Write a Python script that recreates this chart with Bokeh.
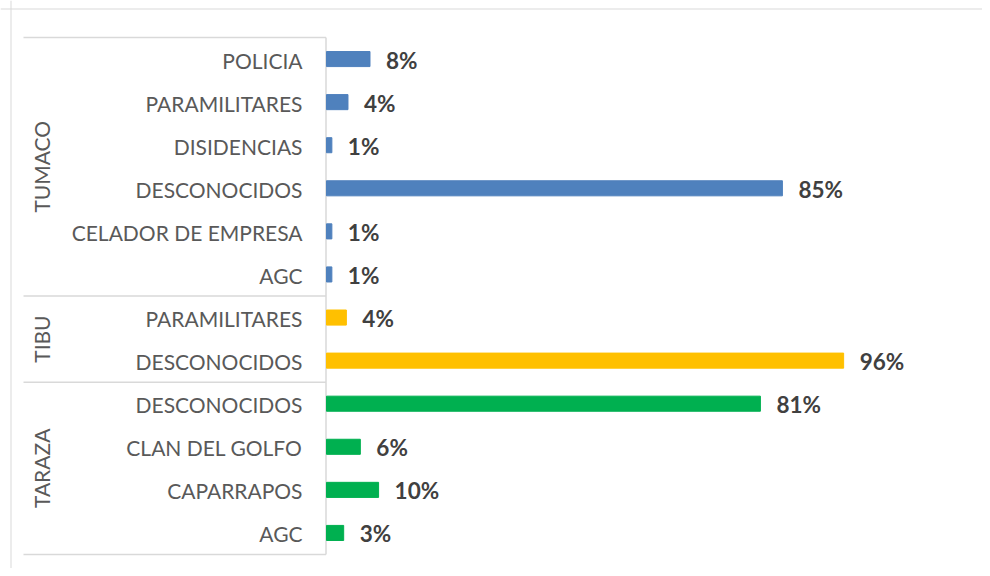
import math
from bokeh.plotting import figure
from bokeh.models import ColumnDataSource, Span
from bokeh.core.properties import value
from bokeh.embed import file_html
from bokeh.resources import INLINE

# ---- data ----
groups = ["TUMACO", "TIBU", "TARAZA"]
tumaco_cats = ["POLICIA", "PARAMILITARES", "DISIDENCIAS", "DESCONOCIDOS", "CELADOR DE EMPRESA", "AGC"]
tumaco_vals = [8.1, 4.0, 1.0, 84.9, 1.0, 1.0]
tibu_cats = ["PARAMILITARES", "DESCONOCIDOS"]
tibu_vals = [3.7, 96.3]
taraza_cats = ["DESCONOCIDOS", "CLAN DEL GOLFO", "CAPARRAPOS", "AGC"]
taraza_vals = [80.8, 6.3, 9.7, 3.2]
group_colors = ["#4f81bd", "#ffc000", "#00b050"]

group_cats = [tumaco_cats, tibu_cats, taraza_cats]
group_vals = [tumaco_vals, tibu_vals, taraza_vals]

# ---- layout constants (pixels in the picture) ----
W, H = 982, 568
PAGE_X, PAGE_Y = 0, 0
X0 = 326.0          # picture x of value 0
S = 5.37            # px per percent
TOP, BOTTOM = 37.0, 554.0
n_rows = sum(len(c) for c in group_cats)
P = (BOTTOM - TOP) / n_rows

def px2x(px):
    return (px - X0) / S

def py2y(py):
    return (n_rows - 0.5) - (py - TOP) / P

# build rows top -> bottom
ys, cats, vals, cols, labels = [], [], [], [], []
row = n_rows - 1
group_y = []
group_edges = [TOP]
for g, cs, vs, col in zip(groups, group_cats, group_vals, group_colors):
    gy = []
    for c, v in zip(cs, vs):
        ys.append(row)
        cats.append(c)
        vals.append(v)
        cols.append(col)
        labels.append(f"{round(v)}%")
        gy.append(row)
        row -= 1
    group_y.append(sum(gy) / len(gy))
    group_edges.append(TOP + (n_rows - 1 - min(gy) + 1) * P)

src = ColumnDataSource(dict(y=ys, cat=cats, val=vals, color=cols, label=labels))

p = figure(width=W, height=H, output_backend="svg", toolbar_location=None,
           x_range=(px2x(PAGE_X), px2x(PAGE_X + W)),
           y_range=(py2y(PAGE_Y + H), py2y(PAGE_Y)),
           x_axis_location=None, y_axis_location=None,
           min_border=0, min_border_left=0, min_border_right=0,
           min_border_top=0, min_border_bottom=0)
p.grid.visible = False
p.outline_line_color = None
p.background_fill_color = "white"
p.border_fill_color = "white"

# outer chart border (top and left visible)
p.add_layout(Span(location=px2x(10.5), dimension="height", line_color="#d9d9d9", line_width=1))
p.add_layout(Span(location=py2y(8.5), dimension="width", line_color="#d9d9d9", line_width=1))

# axis box lines
sep_y = [py2y(e) for e in group_edges]
p.segment(x0=[px2x(23)] * len(sep_y), x1=[px2x(325.5)] * len(sep_y),
          y0=sep_y, y1=sep_y, line_color="#d9d9d9", line_width=1.5)
p.segment(x0=[px2x(325.5)], x1=[px2x(325.5)], y0=[sep_y[0]], y1=[sep_y[-1]],
          line_color="#d9d9d9", line_width=1.5)

# bars
p.hbar(y="y", left=0, right="val", height=0.35, color="color", source=src)

# data labels
p.text(x="val", y="y", text="label", source=src, x_offset=16, y_offset=1,
       text_align="left", text_baseline="middle",
       text_font=value("Lato"), text_font_style="bold",
       text_font_size="22.5px", text_color="#404040")

# category labels
p.text(x=0, y="y", text="cat", source=src, x_offset=-24, y_offset=1,
       text_align="right", text_baseline="middle",
       text_font=value("Lato"), text_font_size="21px", text_color="#595959")

# group labels
p.text(x=[px2x(41)] * len(groups), y=group_y, text=groups, angle=math.pi / 2,
       text_align="center", text_baseline="middle",
       text_font=value("Lato"), text_font_size="21px", text_color="#595959")

open("out.html", "w").write(file_html(p, INLINE))
